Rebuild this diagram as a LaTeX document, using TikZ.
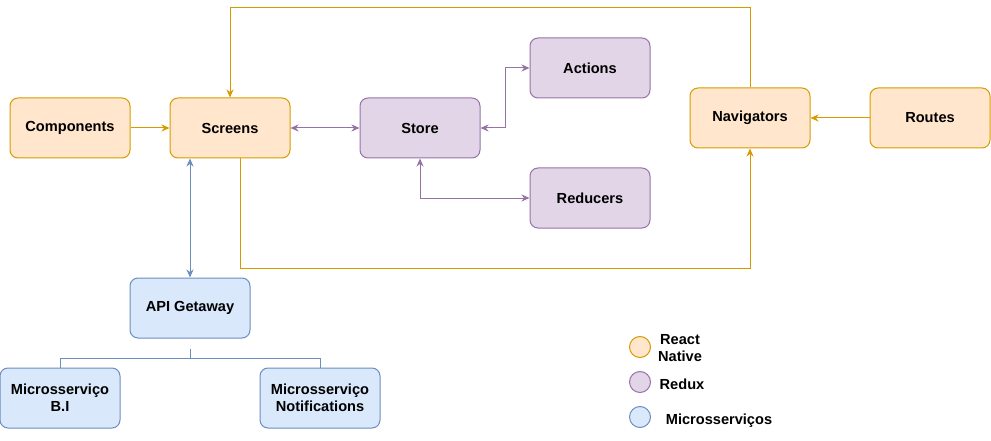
\documentclass[tikz,border=0pt]{standalone}
\usepackage{fontspec}
\setmainfont{Liberation Sans}
\usetikzlibrary{arrows.meta}
\definecolor{rnfill}{HTML}{FFE6CC}
\definecolor{rnline}{HTML}{D79B00}
\definecolor{rxfill}{HTML}{E1D5E7}
\definecolor{rxline}{HTML}{9673A6}
\definecolor{msfill}{HTML}{DAE8FC}
\definecolor{msline}{HTML}{6C8EBF}

\begin{document}
\begin{tikzpicture}[x=1pt,y=-1pt,
  box/.style={draw,rounded corners=8pt,line width=1pt,minimum width=120pt,minimum height=60pt,
    inner sep=0pt,align=center,font=\fontsize{14.6}{17}\selectfont\bfseries},
  rn/.style={box,fill=rnfill,draw=rnline},
  rx/.style={box,fill=rxfill,draw=rxline},
  ms/.style={box,fill=msfill,draw=msline},
  link/.style={line width=1pt,-{Stealth[length=8pt,width=7pt,inset=2.5pt]}},
  both/.style={line width=1pt,{Stealth[length=8pt,width=7pt,inset=2.5pt]}-{Stealth[length=8pt,width=7pt,inset=2.5pt]}},
  dot/.style={circle,draw,line width=1pt,minimum size=21pt,inner sep=0pt},
  legend/.style={align=center,font=\fontsize{14.6}{17}\selectfont\bfseries}]
\useasboundingbox (0,0) rectangle (991,441);

\node[rn] (comp) at (70,128) {Components};
\node[rn] (scr) at (230,128) {Screens};
\node[rx] (store) at (420,128) {Store};
\node[rx] (act) at (590,68) {Actions};
\node[rx] (red) at (590,198) {Reducers};
\node[rn] (nav) at (750,118) {Navigators};
\node[rn] (rout) at (930,118) {Routes};
\node[ms] (api) at (190,308) {API Getaway};
\node[ms] (bi) at (60,398) {Microsserviço\\B.I};
\node[ms] (noti) at (320,398) {Microsserviço\\Notifications};

\draw[link,rnline] (comp) -- (scr);
\draw[link,rnline] (rout) -- (nav);
\draw[link,rnline] (nav.north) -- ++(0,-80) -| (scr.north);
\draw[link,rnline] ([xshift=10pt]scr.south) -- ++(0,110) -| (nav.south);
\draw[both,rxline] (scr) -- (store);
\draw[both,rxline] (store.east) -- ++(25,0) |- (act.west);
\draw[both,rxline] (store.south) |- (red.west);
\draw[both,msline] (api.north) -- (api.north |- scr.south);

\coordinate (fork) at ([yshift=-10pt]api.south);
\draw[msline,line width=1pt] (fork) -- ++(0,10) -| (bi.north);
\draw[msline,line width=1pt] (fork) -- ++(0,10) -| (noti.north);

\node[dot,draw=rnline,fill=rnfill] (d1) at (640,347) {};
\node[dot,draw=rxline,fill=rxfill] (d2) at (640,382) {};
\node[dot,draw=msline,fill=msfill] (d3) at (640,417) {};
\node[legend] (l1) at (680,348) {React\\Native};
\node[legend] (l2) at (682,384) {Redux};
\node[legend] (l3) at (719,421) {Microsserviços};
\end{tikzpicture}
\end{document}
